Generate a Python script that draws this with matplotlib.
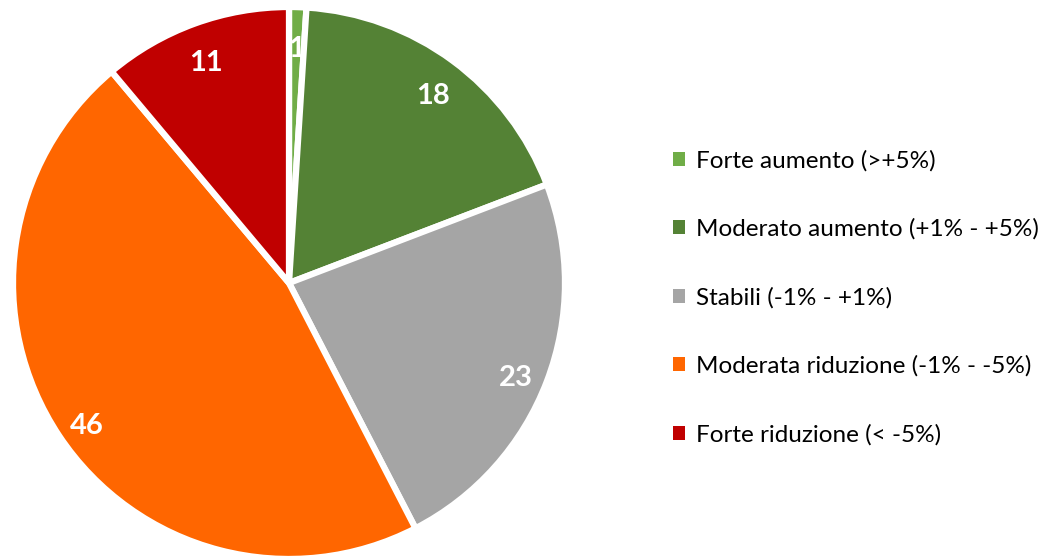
import matplotlib
matplotlib.use("Agg")
import matplotlib.pyplot as plt
from matplotlib.patches import Patch
from matplotlib.transforms import offset_copy

categories = ["Forte aumento (>+5%)", "Moderato aumento (+1% - +5%)",
              "Stabili (-1% - +1%)", "Moderata riduzione (-1% - -5%)",
              "Forte riduzione (< -5%)"]
values = [1, 18, 23, 46, 11]
colors = ["#70AD47", "#548235", "#A5A5A5", "#FF6600", "#C00000"]

plt.rcParams['font.family'] = ['Lato', 'DejaVu Sans']

W, H = 1045, 560
fig = plt.figure(figsize=(W / 100, H / 100), dpi=100)
cx, cy, r = 289, 277, 276
ax = fig.add_axes([(cx - r) / W, (cy - r) / H, 2 * r / W, 2 * r / H])
wedges, texts = ax.pie(values, colors=colors, startangle=90, counterclock=False,
                       labels=[str(v) for v in values], labeldistance=0.88,
                       wedgeprops=dict(edgecolor="white", linewidth=4.5),
                       textprops=dict(color="white", fontsize=21, fontweight="bold"))
for t in texts:
    t.set_ha("center")
    t.set_va("center_baseline")
    t.set_transform(offset_copy(t.get_transform(), fig=fig, x=0, y=-6, units='dots'))
ax.set_xlim(-1, 1)
ax.set_ylim(-1, 1)
ax.set_aspect("equal")
ax.axis("off")

handles = [Patch(facecolor=c, edgecolor="none") for c in colors]
fig.legend(handles, categories, loc="upper left", bbox_to_anchor=(673 / W, 1 - 150 / H),
           frameon=False, fontsize=17.5, handlelength=0.5, handleheight=0.5,
           handletextpad=0.45, labelspacing=1.93, borderaxespad=0, borderpad=0)

fig.savefig("out.png", dpi=100)
